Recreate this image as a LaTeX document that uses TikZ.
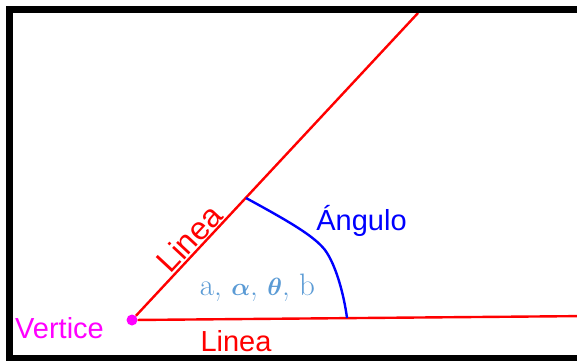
\documentclass[tikz,border=0pt]{standalone}
\usepackage{amsmath}
\usepackage{fontspec}
\newfontfamily\labelfont{Liberation Sans}
\usetikzlibrary{calc}
\definecolor{vmag}{RGB}{255,0,255}
\definecolor{pured}{RGB}{255,0,0}
\definecolor{pureblue}{RGB}{0,0,255}
\definecolor{softblue}{RGB}{91,155,213}
\begin{document}
\begin{tikzpicture}[x=1pt,y=-1pt,
    ray/.style={draw=pured, line width=2.4pt},
    arcline/.style={draw=pureblue, line width=2.4pt},
    vdot/.style={circle, fill=vmag, minimum size=11pt, inner sep=0pt},
    lbl/.style={font=\labelfont\fontsize{29}{29}\selectfont, inner sep=0pt}
]
\useasboundingbox (0,0) rectangle (577,360);
\clip (0,0) rectangle (577,360);

%% vertex and the two lines
\node[vdot] (v) at (132,320) {};
\coordinate (top)   at (418,13);
\coordinate (right) at (590,316);
\draw[ray] (v) -- (top);
\draw[ray] (v) -- (right);

%% angle curve
\coordinate (p) at (246,198);
\coordinate (q) at (347,318);
\draw[arcline] (p) .. controls (290,222) and (314,236) .. (325,250)
                   .. controls (336,265) and (344,295) .. (q);

%% labels
\path (v.center) -- (top) node[lbl, text=pured, pos=0.236, sloped, above=2pt,
    font=\labelfont\fontsize{32}{32}\selectfont] (lineaup) {Linea};
\node[lbl, text=pured, anchor=base]    (lineadown) at (236,351)   {Linea};
\node[lbl, text=vmag, anchor=base]     (vname)     at (59.5,338)  {Vertice};
\node[lbl, text=pureblue, anchor=base] (aname)     at (361.5,230) {Ángulo};
\node[anchor=base, inner sep=0pt, text=softblue, font=\fontsize{31}{31}\selectfont]
    (names) at (257.5,295) {a, $\boldsymbol{\alpha}$, $\boldsymbol{\theta}$, b};

%% frame
\draw[line width=7pt] (600,9.5) -- (9.5,9.5) -- (9.5,358.5) -- (600,358.5);
\end{tikzpicture}
\end{document}
